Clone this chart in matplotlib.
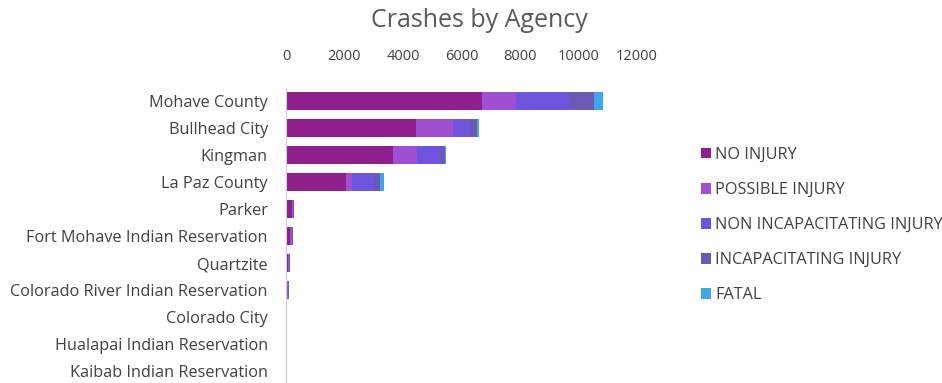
import matplotlib.pyplot as plt
import numpy as np

plt.rcParams['font.family'] = ['Open Sans', 'DejaVu Sans']

agencies = ['Mohave County', 'Bullhead City', 'Kingman', 'La Paz County', 'Parker',
            'Fort Mohave Indian Reservation', 'Quartzite',
            'Colorado River Indian Reservation', 'Colorado City',
            'Hualapai Indian Reservation', 'Kaibab Indian Reservation']
no_injury = [6700, 4450, 3650, 2050, 210, 150, 80, 50, 25, 10, 15]
possible_injury = [1180, 1270, 840, 220, 40, 40, 10, 10, 5, 5, 5]
non_incap_injury = [1810, 540, 780, 730, 20, 40, 40, 50, 10, 5, 5]
incap_injury = [840, 280, 180, 215, 5, 5, 5, 5, 5, 5, 5]
fatal = [300, 70, 20, 135, 3, 3, 2, 2, 2, 10, 3]

series = [('NO INJURY', no_injury, '#8e1f8c'),
          ('POSSIBLE INJURY', possible_injury, '#a04fd0'),
          ('NON INCAPACITATING INJURY', non_incap_injury, '#6f55dd'),
          ('INCAPACITATING INJURY', incap_injury, '#6a5ab5'),
          ('FATAL', fatal, '#3fa6ea')]

fig = plt.figure(figsize=(9.42, 3.83), dpi=100)
ax = fig.add_axes([286/942, 1 - 384.5/383, (637-286)/942, 297/383])

y = np.arange(len(agencies))
left = np.zeros(len(agencies))
for name, vals, col in series:
	ax.barh(y, vals, left=left, height=0.67, color=col, label=name)
	left += np.array(vals)

ax.set_ylim(len(agencies) - 0.5, -0.5)
ax.set_xlim(0, 12000)
ax.set_xticks(range(0, 12001, 2000))
ax.xaxis.tick_top()
ax.tick_params(axis='x', length=0, pad=17, labelsize=10.5, labelcolor='#404040')
ax.set_yticks(y)
ax.set_yticklabels(agencies)
ax.tick_params(axis='y', length=0, pad=13, labelsize=11.7, labelcolor='#404040')
for s in ['top', 'right', 'bottom']:
	ax.spines[s].set_visible(False)
ax.spines['left'].set_color('#d0d0d0')

fig.text(0.509, 0.947, 'Crashes by Agency', ha='center', va='center',
	fontsize=18, color='#595959')

fig.legend(loc='upper left', bbox_to_anchor=(0.737, 0.633), frameon=False,
	fontsize=11.7, labelcolor='#404040', handlelength=0.6, handleheight=0.6,
	handletextpad=0.3, labelspacing=1.17, borderaxespad=0)

plt.savefig('out.png', dpi=100)
